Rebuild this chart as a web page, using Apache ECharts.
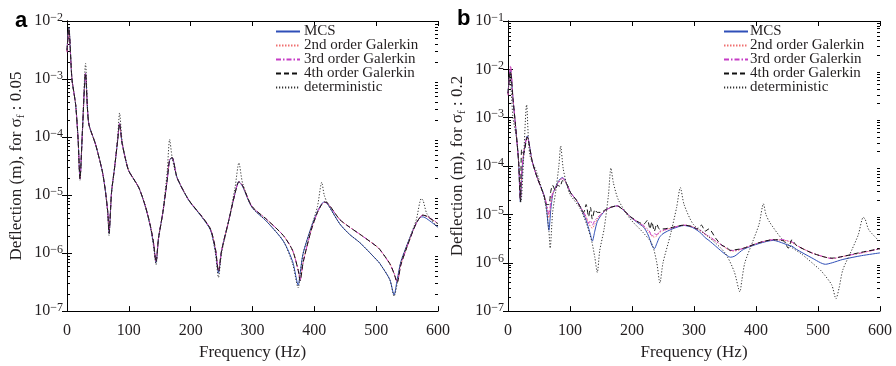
<!DOCTYPE html>
<html><head><meta charset="utf-8">
<script src="https://cdn.jsdelivr.net/npm/echarts@6/dist/echarts.min.js"></script>
<style>html,body{margin:0;padding:0;background:#fff}#c{width:896px;height:366px}</style>
</head><body><div id="c"></div>
<script>
// ---------- DATA ----------
const seriesNames = ['MCS', '2nd order Galerkin', '3rd order Galerkin', '4th order Galerkin', 'deterministic'];
const xTicks = [0, 100, 200, 300, 400, 500, 600];

// Panel a (sigma_f = 0.05)
const freqA = [0,3,8,14,18,21,25,30,35,46, 57,62,66,68,72,77,82,85,89,95, 100,116,127,135,140,144,148,155,162,166,
  170,178,197,218,232,240,245,250,262,272, 278,284,299,323,350,365,374,377,382,395, 405,412,416,422,441,457,474,501,506,522,
  529,534,540,555,565,573,576,582,600];
const mcsA = [3.2e-3,7.6e-3,1.0e-3,3.6e-4,8.9e-5,1.9e-5,1.3e-4,1.26e-3,1.75e-4,7.6e-5, 2.6e-5,1.2e-5,5.0e-6,2.2e-6,1.1e-5,3.0e-5,8.9e-5,1.7e-4,7.9e-5,4.0e-5,
  2.6e-5,1.35e-5,6.2e-6,2.8e-6,1.4e-6,6.9e-7,1.8e-6,5.0e-6,1.8e-5,4.0e-5, 4.4e-5,2.0e-5,8.1e-6,4.2e-6,2.5e-6,1.1e-6,4.5e-7,1.1e-6,3.8e-6,1.1e-5,
  1.7e-5,1.4e-5,6.2e-6,3.5e-6,1.6e-6,7.1e-7,2.8e-7,4.5e-7,1.0e-6,2.8e-6, 5.2e-6,7.1e-6,7.6e-6,6.9e-6,3.2e-6,2.1e-6,1.5e-6,7.6e-7,6.6e-7,3.5e-7,
  1.9e-7,3.5e-7,7.1e-7,1.9e-6,3.3e-6,4.2e-6,4.2e-6,3.9e-6,2.8e-6];
const g2A = [3.0e-3,7.2e-3,1.0e-3,3.6e-4,8.9e-5,1.9e-5,1.3e-4,1.25e-3,1.75e-4,7.6e-5, 2.6e-5,1.2e-5,5.0e-6,2.3e-6,1.1e-5,3.0e-5,8.9e-5,1.7e-4,7.9e-5,4.0e-5,
  2.6e-5,1.35e-5,6.3e-6,2.9e-6,1.5e-6,7.1e-7,1.8e-6,5.0e-6,1.8e-5,4.1e-5, 4.4e-5,2.0e-5,8.2e-6,4.3e-6,2.6e-6,1.2e-6,5.0e-7,1.1e-6,3.8e-6,1.1e-5,
  1.7e-5,1.45e-5,6.4e-6,3.8e-6,2.0e-6,1.1e-6,5.0e-7,3.5e-7,7.0e-7,2.5e-6, 5.0e-6,6.9e-6,7.6e-6,7.1e-6,3.8e-6,2.8e-6,2.1e-6,1.3e-6,1.15e-6,6.6e-7,
  4.5e-7,3.2e-7,6.3e-7,1.8e-6,3.3e-6,4.4e-6,4.5e-6,4.3e-6,3.2e-6];
const g3A = [2.9e-3,7.0e-3,1.0e-3,3.6e-4,8.9e-5,1.9e-5,1.3e-4,1.25e-3,1.75e-4,7.6e-5, 2.6e-5,1.2e-5,5.0e-6,2.3e-6,1.1e-5,3.0e-5,8.9e-5,1.7e-4,7.9e-5,4.0e-5,
  2.6e-5,1.35e-5,6.3e-6,2.9e-6,1.5e-6,7.0e-7,1.8e-6,5.0e-6,1.8e-5,4.1e-5, 4.4e-5,2.0e-5,8.2e-6,4.3e-6,2.6e-6,1.2e-6,4.9e-7,1.1e-6,3.8e-6,1.1e-5,
  1.7e-5,1.45e-5,6.4e-6,3.8e-6,2.0e-6,1.1e-6,5.0e-7,3.4e-7,7.0e-7,2.5e-6, 5.0e-6,6.9e-6,7.5e-6,7.1e-6,3.8e-6,2.8e-6,2.1e-6,1.3e-6,1.15e-6,6.5e-7,
  4.5e-7,3.2e-7,6.3e-7,1.8e-6,3.3e-6,4.4e-6,4.5e-6,4.3e-6,3.3e-6];
const g4A = [3.1e-3,7.4e-3,1.0e-3,3.6e-4,8.9e-5,1.9e-5,1.3e-4,1.25e-3,1.75e-4,7.6e-5, 2.6e-5,1.2e-5,5.0e-6,2.2e-6,1.1e-5,3.0e-5,8.9e-5,1.7e-4,7.9e-5,4.0e-5,
  2.6e-5,1.35e-5,6.3e-6,2.9e-6,1.5e-6,7.0e-7,1.8e-6,5.0e-6,1.8e-5,4.1e-5, 4.4e-5,2.0e-5,8.2e-6,4.3e-6,2.6e-6,1.2e-6,4.8e-7,1.1e-6,3.8e-6,1.1e-5,
  1.7e-5,1.45e-5,6.4e-6,3.8e-6,2.0e-6,1.1e-6,5.0e-7,3.3e-7,7.0e-7,2.5e-6, 5.0e-6,6.9e-6,7.6e-6,7.2e-6,3.8e-6,2.8e-6,2.1e-6,1.3e-6,1.15e-6,6.6e-7,
  4.4e-7,3.1e-7,6.3e-7,1.8e-6,3.3e-6,4.4e-6,4.5e-6,4.3e-6,3.2e-6];
// deterministic response (same in both panels), sampled at freqA
const detV = [3.2e-3,8.0e-3,1.0e-3,3.6e-4,8.9e-5,1.8e-5,1.3e-4,1.86e-3,1.75e-4,7.6e-5, 2.6e-5,1.2e-5,4.5e-6,2.0e-6,1.1e-5,3.0e-5,1.0e-4,2.6e-4,8.9e-5,4.0e-5,
  2.6e-5,1.35e-5,6.2e-6,2.8e-6,1.3e-6,6.3e-7,1.8e-6,5.0e-6,2.5e-5,9.1e-5, 4.5e-5,2.0e-5,8.1e-6,4.2e-6,2.5e-6,1.0e-6,3.8e-7,1.0e-6,3.8e-6,1.4e-5,
  3.6e-5,1.6e-5,6.2e-6,3.5e-6,1.6e-6,6.5e-7,2.5e-7,4.2e-7,1.0e-6,2.8e-6, 6.3e-6,1.66e-5,1.0e-5,6.9e-6,3.2e-6,2.1e-6,1.5e-6,7.6e-7,6.6e-7,3.5e-7,
  1.8e-7,3.0e-7,7.1e-7,1.9e-6,3.8e-6,8.7e-6,8.0e-6,4.8e-6,2.7e-6];

// Panel b (sigma_f = 0.2)
const freqB = [0,2,4,8,12,17,20,22,25,31, 39,47,58,62,66,69,72,76,80,84, 88,95,101,110,117,122,126,130,133,136,
  140,144,150,157,165,176,187,198,210,219, 225,229,232,236,240,244,250,265,284,297, 305,312,318,324,335,345,352,359,366,380,
  405,428,445,452,458,465,490,512,523,540, 570,600];
const mcsB = [3.2e-3,6.3e-3,1.0e-2,2.5e-3,7.2e-4,1.26e-4,1.8e-5,5.0e-5,1.6e-4,4.2e-4, 1.26e-4,5.8e-5,2.5e-5,1.4e-5,4.7e-6,1.26e-5,2.5e-5,3.5e-5,4.5e-5,5.4e-5,
  5.8e-5,4.2e-5,2.8e-5,2.0e-5,1.4e-5,1.0e-5,7.6e-6,5.2e-6,3.8e-6,2.8e-6, 4.5e-6,7.1e-6,9.5e-6,1.2e-5,1.38e-5,1.5e-5,1.2e-5,8.7e-6,6.6e-6,5.4e-6,
  4.0e-6,3.0e-6,2.3e-6,1.95e-6,2.5e-6,3.3e-6,4.0e-6,5.0e-6,5.9e-6,5.4e-6, 4.7e-6,4.0e-6,3.3e-6,2.9e-6,2.2e-6,1.7e-6,1.45e-6,1.3e-6,1.38e-6,1.9e-6,
  2.5e-6,2.9e-6,2.5e-6,2.3e-6,2.2e-6,1.9e-6,1.26e-6,9.3e-7,1.0e-6,1.17e-6, 1.4e-6,1.6e-6];
const g2B = [3.0e-3,6.0e-3,1.1e-2,2.6e-3,7.2e-4,1.3e-4,2.0e-5,6.0e-5,1.7e-4,4.0e-4, 1.26e-4,5.8e-5,2.5e-5,1.6e-5,8.5e-6,1.6e-5,2.6e-5,3.4e-5,4.3e-5,5.2e-5,
  5.6e-5,4.2e-5,2.8e-5,2.0e-5,1.4e-5,1.05e-5,8.5e-6,6.6e-6,5.6e-6,5.2e-6, 6.3e-6,8.0e-6,1.0e-5,1.2e-5,1.38e-5,1.5e-5,1.2e-5,8.7e-6,6.8e-6,5.6e-6,
  4.6e-6,4.0e-6,3.6e-6,3.4e-6,3.6e-6,4.2e-6,4.6e-6,5.3e-6,6.0e-6,5.6e-6, 5.0e-6,4.4e-6,3.8e-6,3.4e-6,2.8e-6,2.3e-6,2.0e-6,1.75e-6,1.75e-6,2.0e-6,
  2.6e-6,3.0e-6,2.9e-6,2.8e-6,2.6e-6,2.3e-6,1.6e-6,1.3e-6,1.22e-6,1.35e-6, 1.6e-6,1.95e-6];
const g3B = [2.9e-3,6.5e-3,1.2e-2,2.6e-3,7.0e-4,1.3e-4,2.0e-5,7.0e-5,1.8e-4,4.0e-4, 1.26e-4,5.8e-5,2.5e-5,1.7e-5,1.0e-5,1.8e-5,2.8e-5,3.3e-5,4.2e-5,5.0e-5,
  5.6e-5,4.2e-5,2.8e-5,2.0e-5,1.4e-5,1.1e-5,9.0e-6,6.5e-6,7.5e-6,6.0e-6, 7.5e-6,8.5e-6,1.0e-5,1.2e-5,1.38e-5,1.5e-5,1.2e-5,8.8e-6,6.9e-6,5.8e-6,
  5.0e-6,4.3e-6,3.5e-6,4.0e-6,3.8e-6,4.4e-6,4.7e-6,5.3e-6,6.0e-6,5.6e-6, 5.0e-6,4.6e-6,3.9e-6,3.6e-6,2.8e-6,2.3e-6,2.0e-6,1.8e-6,1.8e-6,2.0e-6,
  2.6e-6,3.0e-6,3.0e-6,2.8e-6,2.7e-6,2.3e-6,1.6e-6,1.3e-6,1.22e-6,1.35e-6, 1.6e-6,1.95e-6];
const g4B = [3.2e-3,6.3e-3,9.0e-3,2.5e-3,7.2e-4,1.26e-4,1.8e-5,2.2e-4,1.8e-4,4.0e-4, 1.26e-4,5.8e-5,2.5e-5,1.6e-5,1.6e-5,3.0e-5,4.0e-5,3.2e-5,4.0e-5,3.8e-5,
  5.0e-5,4.2e-5,2.8e-5,2.0e-5,1.4e-5,1.1e-5,1.6e-5,9.0e-6,1.4e-5,8.0e-6, 1.25e-5,1.1e-5,1.1e-5,1.25e-5,1.4e-5,1.5e-5,1.2e-5,8.9e-6,7.0e-6,6.3e-6,
  7.6e-6,5.0e-6,7.0e-6,4.5e-6,6.3e-6,5.0e-6,5.0e-6,5.4e-6,6.0e-6,5.6e-6, 5.0e-6,6.0e-6,4.5e-6,5.0e-6,3.2e-6,2.3e-6,2.1e-6,1.8e-6,1.85e-6,2.0e-6,
  2.6e-6,3.0e-6,2.8e-6,2.0e-6,3.0e-6,2.3e-6,1.6e-6,1.3e-6,1.25e-6,1.35e-6, 1.65e-6,1.95e-6];

// ---------- CHART ----------
const FONT = 'Liberation Serif';
const TXT = '#231f20';
const chart = echarts.init(document.getElementById('c'), null, {renderer: 'canvas'});

const styles = [
  {color: '#2f4fb8', type: 'solid'},
  {color: '#f07070', type: [1.5, 1.5]},
  {color: '#c63cc6', type: [5, 2, 1.5, 2]},
  {color: '#111111', type: [5, 3]},
  {color: '#333333', type: [1.2, 1.8]}
];

function supLabel(v) {
  const e = Math.round(Math.log10(v));
  return '{b|10}{s|' + (e < 0 ? '\u2212' + (-e) : e) + '}';
}
const richSup = {
  b: {fontFamily: FONT, fontSize: 16, color: TXT, lineHeight: 19},
  s: {fontFamily: FONT, fontSize: 12, color: TXT, lineHeight: 12, verticalAlign: 'top'}
};

function xAxes(grid) {
  return [
    {gridIndex: grid, type: 'value', min: 0, max: 600, interval: 100, position: 'bottom',
     axisLine: {lineStyle: {color: '#000', width: 1}},
     axisTick: {inside: true, length: 5, lineStyle: {color: '#000'}},
     axisLabel: {fontFamily: FONT, fontSize: 16, color: TXT, margin: 12,
       formatter: v => (xTicks.indexOf(v) >= 0 ? String(v) : '')},
     splitLine: {show: false},
     name: 'Frequency (Hz)', nameLocation: 'middle', nameGap: 26,
     nameTextStyle: {fontFamily: FONT, fontSize: 17, color: TXT}},
    {gridIndex: grid, type: 'value', min: 0, max: 600, interval: 100, position: 'top',
     axisLine: {lineStyle: {color: '#000', width: 1}},
     axisTick: {inside: true, length: 5, lineStyle: {color: '#000'}},
     axisLabel: {show: false}, splitLine: {show: false}}
  ];
}
function yAxes(grid, maxV, sigma) {
  return [
    {gridIndex: grid, type: 'log', logBase: 10, min: 1e-7, max: maxV, position: 'left',
     axisLine: {show: true, lineStyle: {color: '#000', width: 1}},
     axisTick: {show: true, inside: true, length: 5, lineStyle: {color: '#000'}},
     axisLabel: {margin: 4, formatter: supLabel, rich: richSup},
     splitLine: {show: false},
     name: '{n|Deflection (m), for \u03c3}{sub|f}{n| : ' + sigma + '}',
     nameLocation: 'middle', nameGap: 40,
     nameTextStyle: {rich: {
       n: {fontFamily: FONT, fontSize: 17, color: TXT, lineHeight: 20},
       sub: {fontFamily: FONT, fontSize: 11, color: TXT, lineHeight: 11, verticalAlign: 'bottom'}
     }}},
    {gridIndex: grid, type: 'log', logBase: 10, min: 1e-7, max: maxV, position: 'right',
     axisLine: {show: true, lineStyle: {color: '#000', width: 1}},
     axisTick: {show: true, inside: true, length: 5, lineStyle: {color: '#000'}},
     axisLabel: {show: false}, splitLine: {show: false}}
  ];
}

function makeSeries(xIdx, yIdx, freqs, vals, k) {
  return {
    name: seriesNames[k], type: 'line', xAxisIndex: xIdx, yAxisIndex: yIdx,
    data: freqs.map((f, i) => [f, vals[i]]),
    symbol: 'none', showSymbol: false, smooth: 0.25, animation: false,
    lineStyle: {color: styles[k].color, width: 1, type: styles[k].type},
    itemStyle: {color: styles[k].color}
  };
}

const legendCommon = {
  orient: 'vertical', itemWidth: 24, itemHeight: 8, itemGap: -1,
  data: seriesNames, selectedMode: false,
  itemStyle: {color: 'transparent', borderWidth: 0, opacity: 0},
  textStyle: {fontFamily: FONT, fontSize: 15, color: TXT, lineHeight: 13.75, padding: [0, 0, 0, -1]}
};

const option = {
  animation: false,
  backgroundColor: '#fff',
  grid: [
    {left: 67, top: 21, right: 458, bottom: 53, show: false},
    {left: 508, top: 21, right: 16, bottom: 53, show: false}
  ],
  xAxis: [...xAxes(0), ...xAxes(1)],
  yAxis: [...yAxes(0, 1e-2, '0.05'), ...yAxes(1, 1e-1, '0.2')],
  legend: [
    Object.assign({}, legendCommon, {left: 270, top: 19}),
    Object.assign({}, legendCommon, {left: 718, top: 19, textStyle: Object.assign({}, legendCommon.textStyle, {padding: [0, 0, 0, -3]})})
  ],
  title: [
    {text: 'a', left: 10, top: 5, textStyle: {fontFamily: 'Liberation Sans', fontWeight: 'bold', fontSize: 22, color: '#000'}},
    {text: 'b', left: 452, top: 3, textStyle: {fontFamily: 'Liberation Sans', fontWeight: 'bold', fontSize: 22, color: '#000'}}
  ],
  series: [
    makeSeries(0, 0, freqA, mcsA, 0),
    makeSeries(0, 0, freqA, g2A, 1),
    makeSeries(0, 0, freqA, g3A, 2),
    makeSeries(0, 0, freqA, g4A, 3),
    makeSeries(0, 0, freqA, detV, 4),
    makeSeries(2, 2, freqB, mcsB, 0),
    makeSeries(2, 2, freqB, g2B, 1),
    makeSeries(2, 2, freqB, g3B, 2),
    makeSeries(2, 2, freqB, g4B, 3),
    makeSeries(2, 2, freqA, detV, 4)
  ]
};
chart.setOption(option);

// minor log ticks (2..9 x 10^k) on left and right y axes, positioned via the axis scale
function minorTicks(xIdx, yIdx, minE, maxE) {
  const els = [];
  const xl = chart.convertToPixel({xAxisIndex: xIdx}, 0);
  const xr = chart.convertToPixel({xAxisIndex: xIdx}, 600);
  for (let e = minE; e < maxE; e++) {
    for (let m = 2; m <= 9; m++) {
      const y = Math.round(chart.convertToPixel({yAxisIndex: yIdx}, m * Math.pow(10, e))) + 0.5;
      els.push({type: 'line', silent: true, shape: {x1: xl, y1: y, x2: xl + 3, y2: y}, style: {stroke: '#000', lineWidth: 1}});
      els.push({type: 'line', silent: true, shape: {x1: xr - 3, y1: y, x2: xr, y2: y}, style: {stroke: '#000', lineWidth: 1}});
    }
  }
  return els;
}
chart.setOption({graphic: [...minorTicks(0, 0, -7, -2), ...minorTicks(2, 2, -7, -1)]});
</script>
</body></html>
